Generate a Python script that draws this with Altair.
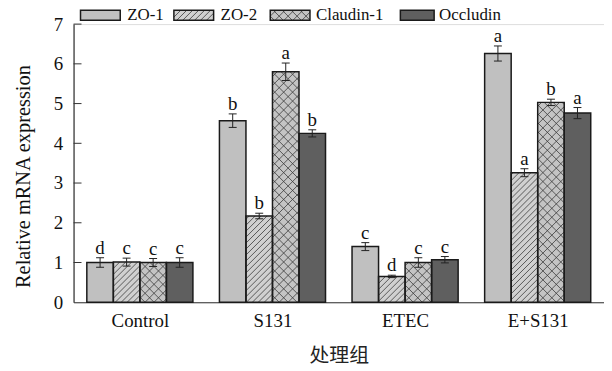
import altair as alt
import pandas as pd
import numpy as np

# ---------------- data ----------------
groups = ["Control", "S131", "ETEC", "E+S131"]
series = ["ZO-1", "ZO-2", "Claudin-1", "Occludin"]
zo1_mean = [1.00, 4.57, 1.40, 6.26]
zo2_mean = [1.01, 2.17, 0.65, 3.26]
cld_mean = [1.00, 5.80, 1.00, 5.03]
occ_mean = [1.00, 4.25, 1.07, 4.76]
zo1_err = [0.12, 0.17, 0.10, 0.19]
zo2_err = [0.10, 0.07, 0.03, 0.10]
cld_err = [0.10, 0.22, 0.12, 0.08]
occ_err = [0.12, 0.09, 0.08, 0.14]
zo1_sig = ["d", "b", "c", "a"]
zo2_sig = ["c", "b", "d", "a"]
cld_sig = ["c", "a", "c", "b"]
occ_sig = ["c", "b", "c", "a"]
y_ticks = [0, 1, 2, 3, 4, 5, 6, 7]

means = [zo1_mean, zo2_mean, cld_mean, occ_mean]
errs = [zo1_err, zo2_err, cld_err, occ_err]
sigs = [zo1_sig, zo2_sig, cld_sig, occ_sig]

# ---------------- layout / style ----------------
W, H = 534, 280
XMAX, YMAX = 4.0, 7.0
PX = W / XMAX   # pixels per x unit
PY = H / YMAX   # pixels per y unit
BW = 0.2        # bar width in x units
FONT = "'Liberation Serif', 'Times New Roman', Times, serif"
fills = {"ZO-1": "#c0c0c0", "ZO-2": "#d0d0d0", "Claudin-1": "#c4c4c4", "Occludin": "#5f5f5f"}
hatch_spec = {"ZO-2": (6.0, [1]), "Claudin-1": (9.0, [1, -1])}


def hatch(x0, x1, y0, y1, step, dirs):
    X0, X1, Y0, Y1 = x0 * PX, x1 * PX, y0 * PY, y1 * PY
    segs = []
    for d in dirs:
        if d == 1:
            cs = np.arange(np.floor((Y0 - X1) / step) * step, Y1 - X0 + step, step)
            for c in cs:
                xa, xb = max(X0, Y0 - c), min(X1, Y1 - c)
                if xb - xa > 0.3:
                    segs.append((xa / PX, (xa + c) / PY, xb / PX, (xb + c) / PY))
        else:
            cs = np.arange(np.floor((Y0 + X0) / step) * step, Y1 + X1 + step, step)
            for c in cs:
                xa, xb = max(X0, c - Y1), min(X1, c - Y0)
                if xb - xa > 0.3:
                    segs.append((xa / PX, (c - xa) / PY, xb / PX, (c - xb) / PY))
    return segs


rows, hrows = [], []
for j, s in enumerate(series):
    for i, g in enumerate(groups):
        x0 = i + 0.5 - 2 * BW + j * BW
        m, e = means[j][i], errs[j][i]
        rows.append(dict(group=g, series=s, x0=x0, x1=x0 + BW, xc=x0 + BW / 2,
                         y0=0.0, y1=m, lo=m - e, hi=m + e,
                         cl=x0 + BW / 2 - 4 / PX, cr=x0 + BW / 2 + 4 / PX,
                         sig=sigs[j][i], fill=fills[s]))
        if s in hatch_spec:
            step, dirs = hatch_spec[s]
            for (a, b, c, d) in hatch(x0, x0 + BW, 0.0, m, step, dirs):
                hrows.append(dict(x=a, y=b, x2=c, y2=d, series=s))

# legend layout (pixel offsets from plot origin, converted to data units)
leg_box_px = [(7, 47), (101, 141), (198, 238), (329, 363)]
leg_txt_px = [54, 148, 244, 368]
leg_top_px, leg_bot_px = -14, -4
lrows, ltrows, lhrows = [], [], []
for s, (a, b), t in zip(series, leg_box_px, leg_txt_px):
    x0, x1 = a / PX, b / PX
    y0, y1 = YMAX - leg_bot_px / PY, YMAX - leg_top_px / PY
    lrows.append(dict(series=s, x0=x0, x1=x1, y0=y0, y1=y1, fill=fills[s]))
    ltrows.append(dict(series=s, x=t / PX, y=(y0 + y1) / 2))
    if s in hatch_spec:
        step, dirs = hatch_spec[s]
        for (p, q, r, u) in hatch(x0, x1, y0, y1, step, dirs):
            lhrows.append(dict(x=p, y=q, x2=r, y2=u, series=s))

df = pd.DataFrame(rows)
hdf = pd.DataFrame(hrows)
ldf = pd.DataFrame(lrows)
ltdf = pd.DataFrame(ltrows)
lhdf = pd.DataFrame(lhrows)
tdf = pd.DataFrame(dict(y=y_ticks[1:], x=[0.0] * 7, x2=[8 / PX] * 7))

xs = alt.Scale(domain=[0, XMAX], nice=False, zero=False)
ys = alt.Scale(domain=[0, YMAX], nice=False, zero=False)
label_expr = "datum.value < 1 ? 'Control' : datum.value < 2 ? 'S131' : datum.value < 3 ? 'ETEC' : 'E+S131'"
xaxis = alt.Axis(values=[0.5, 1.5, 2.5, 3.5], labelExpr=label_expr, ticks=False, tickSize=0,
                 grid=False, domainColor="#333333", domainWidth=1.2,
                 labelFont=FONT, labelFontSize=19, labelColor="#111111", labelPadding=9,
                 title="处理组", titleFont="Noto Sans CJK SC", titleFontSize=20,
                 titleFontWeight="normal", titleColor="#222222", titlePadding=16)
yaxis = alt.Axis(values=y_ticks, ticks=False, tickSize=0, grid=False,
                 domainColor="#333333", domainWidth=1.2,
                 labelFont=FONT, labelFontSize=19, labelColor="#111111", labelPadding=11,
                 title="Relative mRNA expression", titleFont=FONT, titleFontSize=20.5,
                 titleFontWeight="normal", titleColor="#111111", titlePadding=20, titleY=153)


def X(f):
    return alt.X(f, type="quantitative", scale=xs, axis=xaxis)


def Y(f):
    return alt.Y(f, type="quantitative", scale=ys, axis=yaxis)


base = alt.Chart(df)
bars = base.mark_rect(strokeWidth=0).encode(
    x=X("x0"), x2="x1", y=Y("y0"), y2="y1", fill=alt.Fill("fill:N", scale=None))
hatch_l = alt.Chart(hdf).mark_rule(strokeWidth=0.8, color="#3a3a3a").encode(
    x=X("x"), y=Y("y"), x2="x2", y2="y2")
outline = base.mark_rect(fillOpacity=0, stroke="#1a1a1a", strokeWidth=1.5).encode(
    x=X("x0"), x2="x1", y=Y("y0"), y2="y1")
err_v = base.mark_rule(color="#222222", strokeWidth=1).encode(x=X("xc"), y=Y("lo"), y2="hi")
cap_hi = base.mark_rule(color="#222222", strokeWidth=1).encode(x=X("cl"), x2="cr", y=Y("hi"))
cap_lo = base.mark_rule(color="#222222", strokeWidth=1).encode(x=X("cl"), x2="cr", y=Y("lo"))
sig_t = base.mark_text(font=FONT, fontSize=19, color="#111111", baseline="alphabetic", dy=-4).encode(
    x=X("xc"), y=Y("hi"), text="sig:N")
ticks = alt.Chart(tdf).mark_rule(color="#333333", strokeWidth=1).encode(
    x=X("x"), x2="x2", y=Y("y"))
leg_fill = alt.Chart(ldf).mark_rect(strokeWidth=0).encode(
    x=X("x0"), x2="x1", y=Y("y0"), y2="y1", fill=alt.Fill("fill:N", scale=None))
leg_hatch = alt.Chart(lhdf).mark_rule(strokeWidth=0.8, color="#3a3a3a").encode(
    x=X("x"), y=Y("y"), x2="x2", y2="y2")
leg_out = alt.Chart(ldf).mark_rect(fillOpacity=0, stroke="#1a1a1a", strokeWidth=1.5).encode(
    x=X("x0"), x2="x1", y=Y("y0"), y2="y1")
leg_txt = alt.Chart(ltdf).mark_text(font=FONT, fontSize=17, color="#111111", align="left",
                                    baseline="middle").encode(x=X("x"), y=Y("y"), text="series:N")

chart = alt.layer(bars, hatch_l, outline, err_v, cap_hi, cap_lo, sig_t, ticks,
                  leg_fill, leg_hatch, leg_out, leg_txt).properties(
    width=W, height=H,
    autosize=alt.AutoSizeParams(type="none"),
    padding={"left": 66, "top": 15, "right": 0, "bottom": 66},
).configure_view(stroke=None).configure(background="white")

chart.save("out.html", embed_options={"renderer": "svg", "actions": False})
